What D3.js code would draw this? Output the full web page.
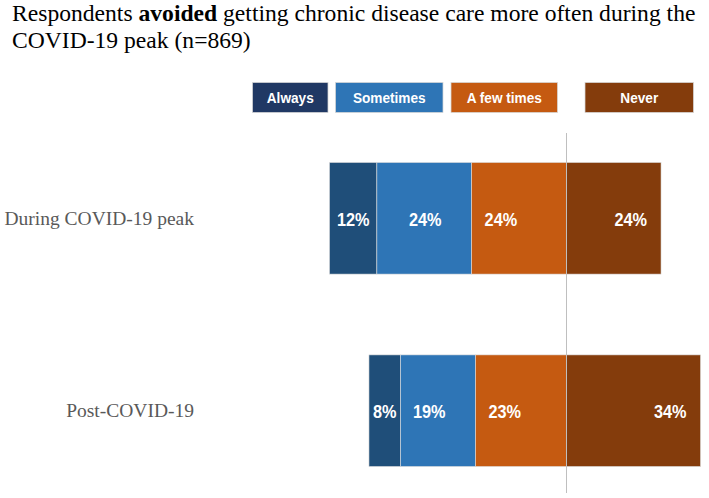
<!DOCTYPE html>
<html>
<head>
<meta charset="utf-8">
<script src="https://cdn.jsdelivr.net/npm/d3@7"></script>
<style>
  body { margin: 0; background: #fff; }
  svg { display: block; }
</style>
</head>
<body>
<div id="chart"></div>
<script>
// data (percent of respondents)
var categories = ["During COVID-19 peak", "Post-COVID-19"];
var responses = ["Always", "Sometimes", "A few times", "Never"];
var always = [12, 8];
var sometimes = [24, 19];
var aFewTimes = [24, 23];
var never = [24, 34];

var width = 709,
    height = 498,
    barColors = ["#1f4e79", "#2e75b6", "#c55a11", "#843c0c"],
    legendColors = ["#203864", "#2e75b6", "#c55a11", "#843c0c"],
    serif = "'Liberation Serif', 'Times New Roman', Times, serif",
    sans = "'Liberation Sans', Arial, sans-serif",
    squeeze = 0.88; // no narrow font installed, so squeeze Arial-metric bold

// one row per category, segments stacked out from the zero line
var rows = categories.map(function(c, i) {
  var vals = [always[i], sometimes[i], aFewTimes[i], never[i]];
  var left = -(vals[0] + vals[1] + vals[2]);
  var segs = [];
  var x0 = left;
  for (var k = 0; k < 3; k++) {
    segs.push({key: responses[k], k: k, x0: x0, x1: x0 + vals[k], value: vals[k]});
    x0 += vals[k];
  }
  segs.push({key: responses[3], k: 3, x0: 0, x1: vals[3], value: vals[3]});
  return {category: c, segs: segs};
});

var xMin = d3.min(rows, function(r) { return r.segs[0].x0; }),
    xMax = d3.max(rows, function(r) { return r.segs[3].x1; });

var x = d3.scaleLinear().domain([xMin, xMax]).range([329.5, 700.5]);
var y = d3.scaleBand().domain(categories).range([162.5, 466.5]).paddingInner(0.42);

var svg = d3.select("#chart").append("svg")
    .attr("width", width)
    .attr("height", height);

// title
var title = svg.append("text")
    .style("font-family", serif)
    .style("font-size", "23.6px")
    .attr("fill", "#000");
var t1 = title.append("tspan").attr("x", 12).attr("y", 21);
t1.append("tspan").text("Respondents ");
t1.append("tspan").attr("font-weight", "bold").text("avoided");
t1.append("tspan").text(" getting chronic disease care more often during the");
title.append("tspan").attr("x", 12).attr("y", 47.5).text("COVID-19 peak (n=869)");

// legend
var legendBoxes = [[252.5, 75.5], [335.5, 107.5], [451, 106.5], [585, 108.5]];
var legend = svg.selectAll("g.legend")
    .data(responses)
  .enter().append("g")
    .attr("class", "legend")
    .attr("transform", function(d, i) { return "translate(" + legendBoxes[i][0] + ",82.5)"; });

legend.append("rect")
    .attr("width", function(d, i) { return legendBoxes[i][1]; })
    .attr("height", 30)
    .attr("fill", function(d, i) { return legendColors[i]; })
    .attr("stroke", "#d6d6d6")
    .attr("stroke-width", 0.75);

legend.append("text")
    .attr("transform", function(d, i) {
      return "translate(" + (legendBoxes[i][1] / 2) + ",20.5) scale(" + squeeze + ",1)";
    })
    .attr("text-anchor", "middle")
    .style("font-family", sans)
    .attr("font-weight", "bold")
    .style("font-size", "15.5px")
    .attr("fill", "#fff")
    .text(function(d) { return d; });

// category labels
svg.selectAll("text.cat")
    .data(categories)
  .enter().append("text")
    .attr("class", "cat")
    .attr("x", 194)
    .attr("y", function(d) { return y(d) + y.bandwidth() / 2 + 6.5; })
    .attr("text-anchor", "end")
    .style("font-family", serif)
    .style("font-size", "19.5px")
    .attr("fill", "#595959")
    .text(function(d) { return d; });

// bars
var row = svg.selectAll("g.row")
    .data(rows)
  .enter().append("g")
    .attr("class", "row")
    .attr("transform", function(d) { return "translate(0," + y(d.category) + ")"; });

row.selectAll("rect")
    .data(function(d) { return d.segs; })
  .enter().append("rect")
    .attr("x", function(d) { return x(d.x0); })
    .attr("width", function(d) { return x(d.x1) - x(d.x0); })
    .attr("height", y.bandwidth())
    .attr("fill", function(d) { return barColors[d.k]; })
    .attr("stroke", "#dcdcdc")
    .attr("stroke-width", 0.6);

// value labels: placement per response mimics the original slide
var labelAnchor = ["middle", "end", "start", "end"];
function labelX(d) {
  if (d.k === 0) return (x(d.x0) + x(d.x1)) / 2;
  if (d.k === 1) return x(d.x1) - 30;
  if (d.k === 2) return x(d.x0) + 13;
  return x(d.x1) - 14;
}

row.selectAll("text")
    .data(function(d) { return d.segs; })
  .enter().append("text")
    .attr("transform", function(d) {
      return "translate(" + labelX(d) + "," + (y.bandwidth() / 2 + 7.5) + ") scale(" + squeeze + ",1)";
    })
    .attr("text-anchor", function(d) { return labelAnchor[d.k]; })
    .style("font-family", sans)
    .attr("font-weight", "bold")
    .style("font-size", "18.5px")
    .attr("fill", "#fff")
    .text(function(d) { return d.value + "%"; });

// zero line
svg.append("line")
    .attr("x1", Math.round(x(0)) + 0.5)
    .attr("x2", Math.round(x(0)) + 0.5)
    .attr("y1", 133)
    .attr("y2", 493)
    .attr("stroke", "#bfbfbf")
    .attr("stroke-width", 1);
</script>
</body>
</html>
